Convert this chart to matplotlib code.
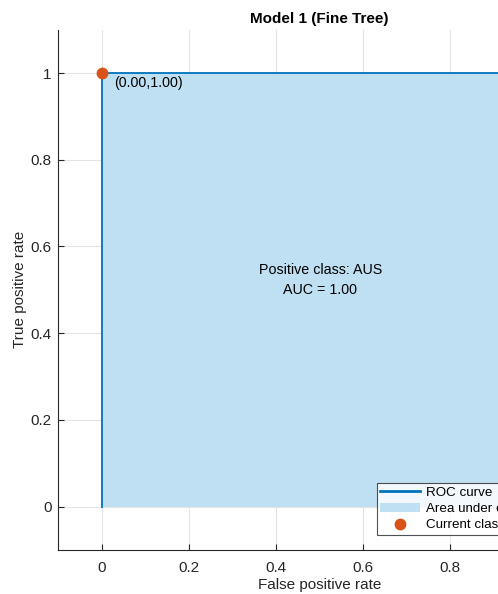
import matplotlib
matplotlib.use("Agg")
import matplotlib.pyplot as plt
from matplotlib.patches import Patch
from matplotlib.lines import Line2D

plt.rcParams['font.family'] = ['Liberation Sans', 'DejaVu Sans']

# ROC curve data
fpr = [0.0, 0.0, 1.0]
tpr = [0.0, 1.0, 1.0]
current_point = (0.0, 1.00)
auc = 1.00
positive_class = "AUS"
xticks = [0, 0.2, 0.4, 0.6, 0.8, 1]
yticks = [0, 0.2, 0.4, 0.6, 0.8, 1]
xtick_labels = ["0", "0.2", "0.4", "0.6", "0.8", "1"]
ytick_labels = ["0", "0.2", "0.4", "0.6", "0.8", "1"]

line_color = "#0072BD"
fill_color = "#BFDFF2"
dot_color = "#D95319"
axis_color = "#262626"

fig = plt.figure(figsize=(4.98, 5.94), dpi=100)
ax = fig.add_axes([0.1165, 0.0741, 1.050, 0.876])

ax.fill_between(fpr, tpr, 0, color=fill_color, linewidth=0, zorder=1)
ax.plot(fpr, tpr, color=line_color, linewidth=1.3, zorder=3)
ax.plot([current_point[0]], [current_point[1]], 'o', color=dot_color,
        markersize=7.5, zorder=4)
ax.annotate(f"({current_point[0]:.2f},{current_point[1]:.2f})",
            xy=current_point, xytext=(9, -7), textcoords='offset points',
            fontsize=10.3, color='black', va='center', ha='left')

ax.text(0.502, 0.523, f"Positive class: {positive_class}\nAUC = {auc:.2f}",
        ha='center', va='center', fontsize=10.3, linespacing=1.55)

ax.set_xlim(-0.1, 1.1)
ax.set_ylim(-0.1, 1.1)
ax.set_xticks(xticks, xtick_labels)
ax.set_yticks(yticks, ytick_labels)
ax.grid(True, color='#E3E3E3', linewidth=0.8, zorder=0)
ax.set_axisbelow(True)
for s in ['top', 'right']:
    ax.spines[s].set_visible(False)
for s in ['left', 'bottom']:
    ax.spines[s].set_color(axis_color)
    ax.spines[s].set_linewidth(0.8)
ax.tick_params(direction='in', length=4, width=0.8, colors=axis_color,
               labelsize=11)
ax.tick_params(axis='y', pad=4.5)
ax.tick_params(axis='x', pad=8)

ax.set_xlabel("False positive rate", fontsize=11, color=axis_color, labelpad=2)
ax.set_ylabel("True positive rate", fontsize=11, color=axis_color, labelpad=2.5)
ax.set_title("Model 1 (Fine Tree)", fontsize=11, fontweight='bold', pad=5)

handles = [
    Line2D([0], [0], color=line_color, linewidth=2),
    Patch(facecolor=fill_color, edgecolor='none'),
    Line2D([0], [0], marker='o', linestyle='none', color=dot_color, markersize=7.5),
]
labels = ["ROC curve", "Area under curve (AUC)", "Current classifier"]
leg = ax.legend(handles, labels, loc='upper left', bbox_to_anchor=(0.610, 0.1287),
                fontsize=9.6, frameon=True, fancybox=False, borderpad=0.25,
                labelspacing=0.3, handlelength=3.0, handletextpad=0.4,
                borderaxespad=0)
leg.get_frame().set_edgecolor('#262626')
leg.get_frame().set_linewidth(0.8)

fig.savefig("out.png", dpi=100)
